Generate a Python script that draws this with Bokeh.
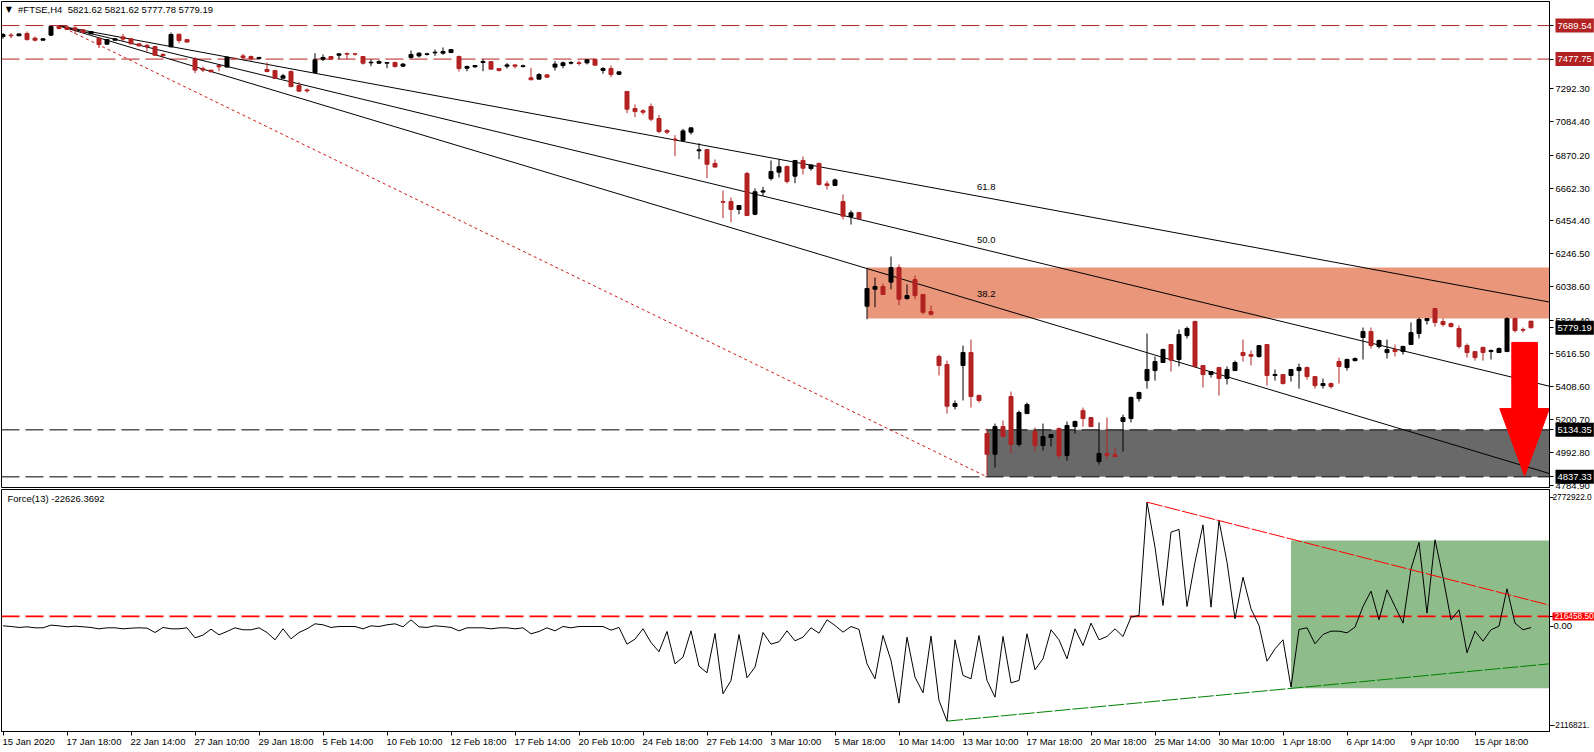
from bokeh.plotting import figure
from bokeh.layouts import column
from bokeh.models import ColumnDataSource, FixedTicker, Label
from bokeh.embed import file_html
from bokeh.resources import INLINE

opens = [7620,7629,7625,7639,7610,7597,7629,7684,7681,7675,
7663,7637,7610,7572,7597,7618,7606,7574,7564,7557,
7507,7555,7635,7601,7477,7416,7408,7437,7427,7483,
7498,7494,7481,7412,7406,7357,7399,7311,7283,7393,
7477,7494,7502,7513,7511,7494,7454,7452,7452,7456,
7433,7488,7498,7507,7517,7515,7519,7494,7420,7429,
7456,7462,7418,7433,7441,7431,7359,7351,7378,7427,
7437,7452,7454,7454,7477,7406,7418,7382,7273,7165,
7151,7178,7102,7026,6972,6963,7016,6898,6906,6818,
6577,6577,6527,6755,6497,6637,6723,6763,6799,6738,
6837,6786,6818,6689,6679,6577,6483,6508,5916,6023,
6040,6068,6160,5964,6084,5990,5882,5598,5547,5282,
5541,5623,5351,5111,4980,5155,5345,5042,5237,5124,
5035,5086,5143,4972,5155,5256,5212,4934,4985,4978,
5187,5206,5332,5446,5509,5560,5674,5579,5730,5819,
5541,5484,5528,5459,5509,5623,5610,5598,5674,5478,
5484,5478,5509,5528,5471,5414,5427,5566,5528,5572,
5718,5756,5661,5623,5642,5629,5674,5743,5825,5901,
5819,5806,5775,5667,5629,5655,5629,5623,5629,5838,
5768,5821.62]
highs = [7642,7642,7637,7652,7620,7606,7688,7690,7684,7684,
7665,7652,7610,7601,7606,7637,7606,7574,7574,7557,
7515,7646,7637,7601,7490,7431,7408,7441,7494,7483,
7511,7500,7492,7456,7406,7384,7406,7332,7292,7515,
7507,7494,7511,7519,7515,7494,7475,7471,7456,7462,
7452,7532,7521,7517,7538,7551,7538,7500,7437,7437,
7477,7462,7418,7452,7443,7443,7422,7389,7378,7465,
7462,7465,7467,7477,7477,7427,7437,7397,7273,7191,
7161,7197,7125,7035,6997,7037,7043,6946,6910,6843,
6647,6603,6552,6765,6660,6670,6837,6847,6805,6837,
6862,6809,6824,6708,6723,6622,6521,6508,6158,6097,
6059,6230,6179,6053,6110,5990,5920,5610,5572,5320,
5667,5705,5358,5141,5174,5193,5376,5256,5307,5149,
5174,5105,5149,5187,5193,5275,5212,5181,5212,5023,
5231,5345,5376,5743,5598,5648,5674,5768,5787,5825,
5541,5503,5528,5535,5572,5705,5636,5667,5674,5516,
5484,5516,5553,5535,5471,5459,5433,5591,5585,5593,
5781,5781,5705,5705,5674,5667,5813,5844,5838,5901,
5838,5813,5794,5680,5629,5661,5642,5655,5845,5844,
5781,5821.62]
lows = [7606,7610,7625,7595,7589,7597,7625,7665,7665,7637,
7646,7637,7547,7572,7597,7591,7574,7561,7526,7502,
7486,7553,7578,7585,7389,7395,7397,7401,7427,7479,
7473,7469,7475,7395,7355,7357,7300,7273,7266,7389,
7465,7477,7477,7477,7500,7443,7433,7446,7420,7424,
7429,7481,7488,7500,7498,7505,7519,7399,7401,7422,
7401,7414,7399,7418,7418,7424,7347,7351,7363,7406,
7420,7444,7437,7444,7439,7385,7363,7376,7136,7111,
7127,7085,7009,7003,6864,6957,7001,6845,6725,6795,
6472,6447,6497,6485,6491,6613,6710,6729,6691,6693,
6748,6773,6679,6653,6679,6464,6432,6468,5834,5910,
5990,6023,5922,5958,5960,5865,5857,5478,5237,5263,
5320,5275,5307,4846,4896,5092,4985,5029,5237,4997,
5004,5029,4953,4940,5111,5155,5155,4915,4953,4959,
4997,5181,5313,5395,5446,5560,5503,5535,5712,5528,
5402,5465,5351,5421,5509,5566,5541,5591,5414,5446,
5421,5440,5395,5452,5395,5395,5395,5427,5509,5566,
5579,5648,5648,5585,5598,5610,5674,5712,5800,5787,
5787,5781,5648,5591,5572,5572,5579,5623,5629,5749,
5749,5777.78]
closes = [7633,7625,7637,7601,7597,7606,7684,7671,7665,7663,
7646,7652,7570,7601,7606,7604,7574,7561,7555,7502,
7500,7633,7595,7585,7408,7408,7397,7429,7490,7479,
7488,7479,7488,7399,7355,7372,7304,7275,7277,7473,
7488,7477,7511,7509,7509,7452,7458,7462,7456,7431,
7446,7507,7515,7511,7521,7526,7538,7418,7431,7437,
7462,7414,7406,7441,7433,7435,7347,7380,7363,7446,
7454,7456,7450,7473,7439,7418,7380,7397,7161,7146,
7142,7098,7020,7016,6967,7024,7043,6904,6813,6795,
6573,6527,6552,6489,6639,6645,6767,6797,6704,6837,
6788,6809,6685,6679,6714,6485,6506,6468,6028,6040,
5990,6160,5960,5983,5983,5878,5865,5541,5284,5301,
5623,5345,5320,4980,5155,5092,5042,5244,5294,5035,
5092,5105,4972,5162,5187,5206,5155,4985,4974,4966,
5212,5339,5370,5516,5566,5642,5575,5737,5775,5535,
5484,5503,5459,5516,5560,5604,5600,5667,5478,5484,
5427,5516,5528,5471,5414,5427,5408,5535,5579,5585,
5756,5667,5699,5642,5629,5661,5749,5832,5838,5813,
5800,5787,5661,5623,5591,5623,5636,5648,5838,5762,
5764,5779.19]
force = [14500,0,-21000,-7000,-28500,-28500,29000,14500,-7000,7000,
-7000,-21000,-50000,-28500,-28500,-50000,-36000,-28500,-36000,-129000,
-21000,-50000,-50000,-28500,-243000,-186000,-57000,-179000,-107000,-28500,
-71000,-71000,-28500,-129000,-286000,-50000,-265000,-129000,-50000,57500,
36000,-21000,0,0,0,-50000,14500,0,36000,57500,
-7000,143000,-7000,-21000,14500,0,-21000,-93000,-28500,-28500,
-28500,-50000,-28500,-28500,-50000,-28500,-157000,-107000,-28500,-93000,
0,-28500,0,0,0,0,-78500,-21000,-379000,-272000,
-50000,-344000,-544000,-107000,-802000,-659000,-93000,-852000,-995000,-150000,
-1446000,-1160000,-172000,-1103000,-874000,-129000,-379000,-329000,-93000,-308000,
-229000,-28500,-143000,143000,22000,-122000,0,-64000,-802000,-1124000,
-193000,-730000,-1647000,-229000,-1088000,-1425000,-207000,-1589000,-2033000,-286000,
-1052000,-1124000,-193000,-1160000,-1518000,-215000,-1210000,-1160000,-157000,-931000,
-694000,-71000,-286000,-694000,-50000,-408000,72000,-286000,-215000,-50000,
-215000,201000,237000,2671000,1704000,451000,2027000,2084000,430000,1382000,
2184000,416000,2277000,1382000,165000,1060000,380000,22000,-745000,-480000,
-286000,-1303000,-64000,-28500,-372000,-172000,-100000,-100000,-136000,-14000,
430000,759000,143000,788000,430000,72000,1239000,1805000,287000,1862000,
1060000,143000,358000,-565000,-100000,-315000,-71000,7000,809000,72000,
-71000,-22626.3692]

date_labels = ["15 Jan 2020","17 Jan 18:00","22 Jan 14:00","27 Jan 10:00","29 Jan 18:00","5 Feb 14:00",
"10 Feb 10:00","12 Feb 18:00","17 Feb 14:00","20 Feb 10:00","24 Feb 18:00","27 Feb 14:00","3 Mar 10:00",
"5 Mar 18:00","10 Mar 14:00","13 Mar 10:00","17 Mar 18:00","20 Mar 18:00","25 Mar 14:00","30 Mar 10:00",
"1 Apr 18:00","6 Apr 14:00","9 Apr 10:00","15 Apr 18:00"]
price_ticks = [7292.30,7084.40,6870.20,6662.30,6454.40,6246.50,6038.60,5824.40,5616.50,5408.60,5200.70,4992.80,4784.90]
price_levels_top = [7689.54,7477.75]
price_levels_bottom = [5134.35,4837.33]
last_price = 5779.19
force_level = 216458.50
force_ticks = [2772922.0,0.0,-2116821.0]

FONT = "Liberation Sans"
FS = "9.5px"
RED = "#B22222"
X0, X1 = -0.1875, 193.3125
BAR_PX = 8.0
P_RANGE = (4770.0, 7841.7)
F_RANGE = (-2256000.0, 2943000.0)
P_TOP, P_H = 1, 486
F_TOP, F_H = 489, 242

idx = list(range(len(opens)))
up = [c >= o for o, c in zip(opens, closes)]
src = ColumnDataSource(dict(x=idx, o=opens, h=highs, l=lows, c=closes,
    color=["#000000" if u else RED for u in up]))

p = figure(width=1594, height=491, x_range=(X0, X1), y_range=P_RANGE,
           x_axis_location=None, y_axis_location="right", toolbar_location=None,
           output_backend="svg", min_border_left=1, min_border_top=1,
           min_border_bottom=4, min_border_right=45, background_fill_color="white")
p.grid.visible = False
p.outline_line_color = "black"
ya = p.yaxis[0]
all_ticks = price_ticks + price_levels_top + price_levels_bottom + [last_price]
ya.ticker = FixedTicker(ticks=all_ticks)
ya.major_label_overrides = {v: f"{v:.2f}" for v in price_ticks}
ya.major_label_overrides.update({v: " " for v in price_levels_top + price_levels_bottom + [last_price]})
ya.major_label_text_font = FONT
ya.major_label_text_font_size = FS
ya.major_label_text_color = "black"
ya.major_label_standoff = 2
ya.major_tick_out = 4
ya.major_tick_in = 0
ya.minor_tick_out = 0
ya.minor_tick_in = 0
ya.axis_line_color = "black"

# zones
p.quad(left=[108], right=[X1], bottom=[5838], top=[6160], fill_color="#E9967A", line_color=None)
p.quad(left=[123], right=[X1], bottom=[price_levels_bottom[1]], top=[price_levels_bottom[0]],
       fill_color="#696969", line_color=None)

for v in price_levels_top:
    p.line([X0, X1], [v, v], line_color=RED, line_dash=[18, 6], line_width=1)
for v in price_levels_bottom:
    p.line([X0, X1], [v, v], line_color="black", line_dash=[18, 6], line_width=1)

# fibonacci fan
fan_x = [7, X1]
fan_start = 7688
for end in (5942, 5410, 4858):
    p.line(fan_x, [fan_start, end], line_color="black", line_width=1)
p.line([7, 123], [7689.54, 4837.33], line_color="#D01818", line_width=1, line_dash=[3, 3])

# candles
p.segment(x0="x", x1="x", y0="l", y1="h", color="color", line_width=1, source=src)
p.vbar(x="x", width=0.5, top="o", bottom="c", fill_color="color", line_color="color", line_width=1, source=src)

# arrow
arrow_x = [188.6, 191.8, 191.8, 193.3, 190.2, 187.1, 188.6]
arrow_y = [5687, 5687, 5269, 5269, 4842, 5269, 5269]
p.patch(arrow_x, arrow_y, fill_color="#FF0000", line_color="#FF0000")

for txt, y in (("61.8", 6668), ("50.0", 6333), ("38.2", 5992)):
    p.add_layout(Label(x=122.9, y=y, text=txt, text_font=FONT, text_font_size=FS, text_align="center",
                       text_baseline="middle", text_color="black"))

p.add_layout(Label(x=0.73, y=7789, text="\u25BC", text_font="DejaVu Sans", text_font_size="8px",
                   text_align="center", text_baseline="middle", text_color="black"))
p.add_layout(Label(x=1.88, y=7789, text="#FTSE,H4\u00A0\u00A05821.62 5821.62 5777.78 5779.19", text_font=FONT,
                   text_font_size=FS, text_align="left", text_baseline="middle", text_color="black"))

# Force pane
f = figure(width=1594, height=261, x_range=p.x_range, y_range=F_RANGE,
           y_axis_location="right", toolbar_location=None, output_backend="svg",
           min_border_left=1, min_border_top=0, min_border_bottom=19, min_border_right=45,
           background_fill_color="white", border_fill_alpha=0, margin=(-2, 0, 0, 0))
f.grid.visible = False
f.outline_line_color = "black"
fy = f.yaxis[0]
fy.ticker = FixedTicker(ticks=force_ticks + [force_level])
fy.major_label_overrides = {v: " " for v in force_ticks + [force_level]}
fy.major_label_text_font_size = FS
fy.major_tick_out = 4
fy.major_tick_in = 0
fy.minor_tick_out = 0
fy.minor_tick_in = 0
fy.axis_line_color = "black"
fx = f.xaxis[0]
date_ticks = idx[::8]
fx.ticker = FixedTicker(ticks=date_ticks)
fx.major_label_overrides = {t: " " for t in date_ticks}
fx.major_label_text_font_size = FS
fx.major_label_standoff = 0
fx.major_tick_out = 4
fx.major_tick_in = 0
fx.minor_tick_out = 0
fx.minor_tick_in = 0
fx.axis_line_color = "black"

f.quad(left=[161], right=[X1], bottom=[-1325000], top=[1848000], fill_color="#8FBC8B", line_color=None)
f.line([X0, X1], [force_level, force_level], line_color="#FF0000", line_dash=[18, 6], line_width=1.6)
f.line(idx, force, line_color="black", line_width=1)
f.line([143, X1], [2671000, 458000], line_color="#FF0000", line_width=1, line_dash=[16, 2])
f.line([118, X1], [-2033000, -802000], line_color="#008000", line_width=1, line_dash=[16, 2])

f.add_layout(Label(x=0.55, y=2741000, text="Force(13) -22626.3692", text_font=FONT, text_font_size=FS,
                   text_align="left", text_baseline="middle", text_color="black"))

# transparent sheet over both panes for the texts that lie outside their frames
o = figure(width=1594, height=750, x_range=(0, 1594), y_range=(750, 0), x_axis_location=None,
           y_axis_location=None, toolbar_location=None, output_backend="svg", min_border=0,
           background_fill_alpha=0, border_fill_alpha=0, outline_line_color=None, margin=(-750, 0, 0, 0))
o.grid.visible = False

def pane_y(v, rng, top, h):
    return top + (rng[1] - v) / (rng[1] - rng[0]) * h

def side_label(y, txt, color="black", bg=None, size=FS, px=1555, pad=(2, 4)):
    kw = dict(background_fill_color=bg, padding=pad) if bg else {}
    o.add_layout(Label(x=px, y=y, text=txt, text_font=FONT, text_font_size=size, text_color=color,
                       text_align="left", text_baseline="middle", **kw))

for v in price_levels_top:
    side_label(pane_y(v, P_RANGE, P_TOP, P_H), f"{v:.2f}", "white", RED)
for v in price_levels_bottom + [last_price]:
    side_label(pane_y(v, P_RANGE, P_TOP, P_H), f"{v:.2f}", "white", "black")
side_label(pane_y(force_ticks[0], F_RANGE, F_TOP, F_H), "2772922.0", size="8.3px", px=1552)
side_label(pane_y(0.0, F_RANGE, F_TOP, F_H), "0.00", px=1553)
side_label(pane_y(force_ticks[2], F_RANGE, F_TOP, F_H), "-2116821.", size="8.3px", px=1552)
side_label(pane_y(force_level, F_RANGE, F_TOP, F_H), "216458.50", "white", "#FF0000", size="8.3px", px=1552, pad=(2, 1))
for t, txt in zip(date_ticks, date_labels):
    o.add_layout(Label(x=2 + t * BAR_PX, y=741, text=txt, text_font=FONT, text_font_size=FS,
                       text_align="left", text_baseline="middle", text_color="black"))

layout = column(column(p, f, spacing=0), o, spacing=0)
open("out.html", "w").write(file_html(layout, INLINE))
